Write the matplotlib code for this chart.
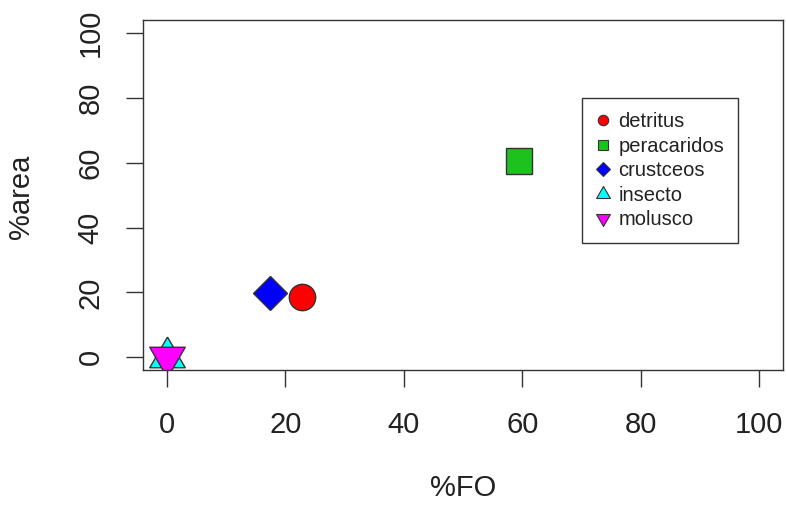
import matplotlib
matplotlib.use("Agg")
import matplotlib.pyplot as plt

plt.rcParams['font.family'] = ['Liberation Sans', 'DejaVu Sans']

# diet items: frequency of occurrence vs. area
items = ['detritus', 'peracaridos', 'crustceos', 'insecto', 'molusco']
fo = [22.9, 59.4, 17.4, 0.0, 0.0]
area = [18.6, 60.7, 19.8, 0.0, 0.0]
colors = ['red', '#1ec21e', 'blue', 'cyan', 'magenta']

# triangles centred on their centroid, like R's pch 24/25
tri_up = [(0, 1), (-0.866, -0.5), (0.866, -0.5), (0, 1)]
tri_down = [(0, -1), (-0.866, 0.5), (0.866, 0.5), (0, -1)]
markers = ['o', 's', 'D', tri_up, tri_down]
sizes = [19, 18.5, 17.5, 29.5, 29.5]
leg_sizes = [7.5, 7, 7, 11.5, 11.5]

fig = plt.figure(figsize=(7.86, 5.05), dpi=100)
ax = fig.add_axes([0.182, 0.267, 0.814, 0.693])

for i in range(len(items)):
    ax.plot(fo[i], area[i], linestyle='none', marker=markers[i],
            markersize=sizes[i], markerfacecolor=colors[i],
            markeredgecolor='#333333', markeredgewidth=1.0)

# legend with small markers
handles = [plt.Line2D([], [], linestyle='none', marker=markers[i],
                      markersize=leg_sizes[i], markerfacecolor=colors[i],
                      markeredgecolor='#333333', markeredgewidth=0.8)
           for i in range(len(items))]
leg = ax.legend(handles, items, loc='upper left',
                bbox_to_anchor=(0.686, 0.777), fontsize=14.5,
                frameon=True, fancybox=False, framealpha=1,
                edgecolor='#333333', handlelength=0.7, handletextpad=0.4,
                labelspacing=0.27, borderpad=0.7, borderaxespad=0)
leg.get_frame().set_linewidth(1.0)
for t in leg.get_texts():
    t.set_color('#222222')

ax.set_xlim(-4, 104)
ax.set_ylim(-4, 104)
ax.set_xticks([0, 20, 40, 60, 80, 100])
ax.set_yticks([0, 20, 40, 60, 80, 100])
ax.tick_params(axis='both', direction='out', length=12, width=1,
               color='#333333', labelsize=21, labelcolor='#222222')
ax.tick_params(axis='x', pad=17.5)
ax.tick_params(axis='y', pad=15.5)
for lab in ax.get_yticklabels():
    lab.set_rotation(90)
    lab.set_va('center')
for sp in ax.spines.values():
    sp.set_color('#333333')
    sp.set_linewidth(1.0)

fig.text(463 / 786, 1 - 488 / 505, '%FO', ha='center',
         va='center', fontsize=21, color='#222222')
fig.text(21 / 786, 1 - 197 / 505, '%area', ha='center', va='center',
         rotation=90, fontsize=21, color='#222222')

fig.savefig('out.png', dpi=100)
